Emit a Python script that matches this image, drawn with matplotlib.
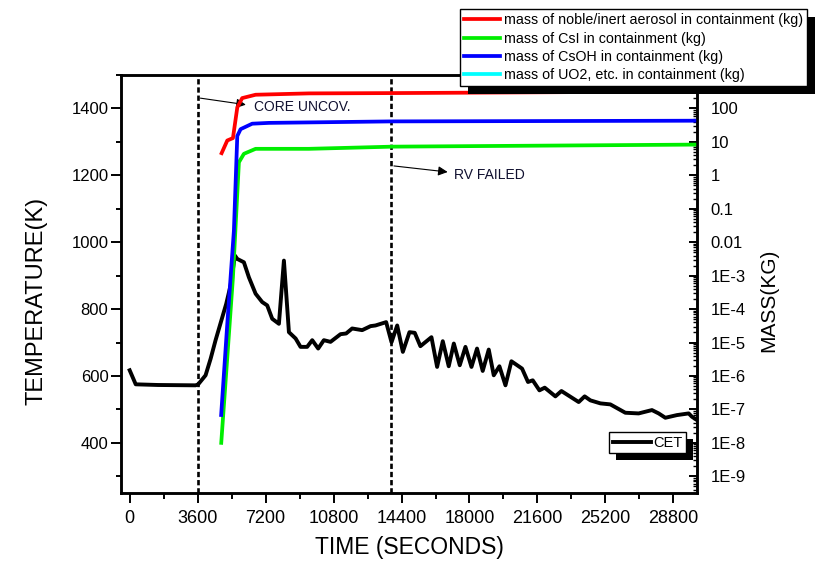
import matplotlib
matplotlib.use("Agg")
import matplotlib.pyplot as plt
from matplotlib.patches import Rectangle
from matplotlib.transforms import IdentityTransform
from matplotlib.ticker import FixedLocator, LogLocator, NullFormatter

plt.rcParams['font.family'] = ['Liberation Sans', 'DejaVu Sans']

# CET temperature (K) vs time (s)
cet_time = [0, 320, 1500, 3490, 3630, 4020, 4290, 4550, 5115, 5345, 5575, 5700,
            6050, 6315, 6670, 7020, 7285, 7550, 7905, 8170, 8435, 8790, 9050, 9400,
            9670, 9985, 10285, 10640, 11170, 11465, 11785, 12315, 12760, 13020,
            13585, 13870, 14170, 14470, 14820, 15100, 15400, 15985, 16285, 16585,
            16900, 17170, 17485, 17785, 18105, 18400, 18700, 19020, 19285, 19585,
            19905, 20220, 20785, 21100, 21350, 21705, 21985, 22550, 22870, 23785,
            24100, 24405, 24935, 25460, 26255, 26960, 27665, 28020, 28375, 28990,
            29610, 29785, 30000]
cet_temp = [617, 575, 573, 572, 575, 602, 652, 707, 816, 871, 960, 950,
            940, 895, 846, 821, 811, 771, 756, 945, 731, 712, 687, 687,
            707, 682, 707, 702, 725, 727, 742, 737, 749, 751,
            761, 701, 751, 672, 731, 729, 689, 716, 627, 704,
            629, 697, 632, 687, 627, 682, 615, 679, 602, 629,
            572, 644, 622, 582, 587, 557, 565, 539, 555, 522,
            539, 527, 518, 515, 490, 488, 498, 488, 475, 483,
            488, 478, 470]

# aerosol masses in containment (kg)
noble_time = [4870, 5170, 5470, 5700, 5960, 6670, 9490, 13890, 20000, 30000]
noble_mass = [4.6, 11, 13, 107, 204, 257, 282, 288, 300, 324]

csi_time = [4850, 5470, 5785, 6050, 6670, 9490, 13900, 30000]
csi_mass = [1e-8, 8.9e-4, 2.45, 4.4, 6.2, 6.2, 7.2, 8.3]

csoh_time = [4845, 5170, 5520, 5700, 5875, 6490, 7375, 13900, 30000]
csoh_mass = [6.8e-8, 3.6e-5, 0.022, 15, 24, 35, 37, 41, 43]

uo2_time = []
uo2_mass = []

events = [3600, 13850]
x_ticks = [0, 3600, 7200, 10800, 14400, 18000, 21600, 25200, 28800]
mass_ticks = [1e-9, 1e-8, 1e-7, 1e-6, 1e-5, 1e-4, 1e-3, 0.01, 0.1, 1, 10, 100]
mass_labels = ["1E-9", "1E-8", "1E-7", "1E-6", "1E-5", "1E-4", "1E-3",
               "0.01", "0.1", "1", "10", "100"]

fig = plt.figure(figsize=(8.22, 5.86), dpi=100)
ax = fig.add_axes([0.1472, 0.1587, 0.7007, 0.7133])
ax2 = ax.twinx()

# temperature side
cet_line, = ax.plot(cet_time, cet_temp, color="black", lw=2.8, label="CET")
for t in events:
    ax.axvline(t, color="black", lw=1.9, linestyle=(0, (2.0, 1.1)))

ax.set_xlim(-460, 30050)
ax.set_ylim(250, 1500)
ax.set_xticks(x_ticks)
ax.xaxis.set_minor_locator(FixedLocator([t + 1800 for t in range(-3600, 30000, 3600)]))
ax.set_yticks([400, 600, 800, 1000, 1200, 1400])
ax.yaxis.set_minor_locator(FixedLocator([300, 500, 700, 900, 1100, 1300, 1500]))
ax.tick_params(axis="x", which="major", direction="out", length=7, width=1.4,
               labelsize=13, pad=5)
ax.tick_params(axis="x", which="minor", direction="out", length=4, width=1.4)
ax.tick_params(axis="y", which="major", direction="out", length=7, width=1.4,
               labelsize=12, pad=2)
ax.tick_params(axis="y", which="minor", direction="out", length=3.5, width=1.4)
for s in ax.spines.values():
    s.set_linewidth(1.8)

ax.set_xlabel("TIME (SECONDS)", fontsize=16.5)
ax.xaxis.set_label_coords(0.5, -0.103)
ax.set_ylabel("TEMPERATURE(K)", fontsize=17)
ax.yaxis.set_label_coords(-0.128, 0.46)

# annotations
ax.annotate("", xy=(6300, 1410), xytext=(3600, 1432),
            arrowprops=dict(arrowstyle="-|>", color="black", lw=0.8, mutation_scale=14))
ax.text(6580, 1403, "CORE UNCOV.", fontsize=10, va="center", ha="left", color="#101030")
ax.annotate("", xy=(16990, 1209), xytext=(13850, 1229),
            arrowprops=dict(arrowstyle="-|>", color="black", lw=0.8, mutation_scale=14))
ax.text(17165, 1201, "RV FAILED", fontsize=10, va="center", ha="left", color="#101030")

# mass side
l1, = ax2.plot(noble_time, noble_mass, color="#ff0000", lw=2.7,
               label="mass of noble/inert aerosol in containment (kg)")
l2, = ax2.plot(csi_time, csi_mass, color="#00ee00", lw=2.7,
               label="mass of CsI in containment (kg)")
l3, = ax2.plot(csoh_time, csoh_mass, color="#0000ff", lw=2.7,
               label="mass of CsOH in containment (kg)")
l4, = ax2.plot(uo2_time, uo2_mass, color="#00ffff", lw=2.7,
               label="mass of UO2, etc. in containment (kg)")
ax2.set_yscale("log")
ax2.set_ylim(10 ** -9.5, 1e3)
ax2.set_yticks(mass_ticks)
ax2.set_yticklabels(mass_labels)
ax2.yaxis.set_minor_locator(LogLocator(base=10, subs=range(2, 10), numticks=30))
ax2.yaxis.set_minor_formatter(NullFormatter())
ax2.tick_params(axis="y", which="major", direction="in", length=6, width=1.4,
                labelsize=12, pad=10)
ax2.tick_params(axis="y", which="minor", direction="in", length=3, width=1.0)
for s in ax2.spines.values():
    s.set_linewidth(1.8)
ax2.set_ylabel("MASS(KG)", fontsize=15)
ax2.yaxis.set_label_coords(1.108, 0.46)

# legends
leg1 = fig.legend(handles=[l1, l2, l3, l4], loc="upper left",
                  bbox_to_anchor=(460 / 822, 1 - 9 / 586), fontsize=10.3,
                  frameon=True, fancybox=False, framealpha=1, edgecolor="black",
                  borderpad=0.3, labelspacing=0.3, handlelength=2.5,
                  handletextpad=0.25, borderaxespad=0)
leg1.get_frame().set_linewidth(1.0)
leg2 = fig.legend(handles=[cet_line], loc="upper left",
                  bbox_to_anchor=(609 / 822, 1 - 432 / 586), fontsize=10.5,
                  frameon=True, fancybox=False, framealpha=1, edgecolor="black",
                  borderpad=0.25, handlelength=2.6, handletextpad=0.2, borderaxespad=0)
leg2.get_frame().set_linewidth(1.0)

# black drop shadows behind the legend boxes
fig.canvas.draw()
for leg, off in [(leg1, 8), (leg2, 7)]:
    bb = leg.get_window_extent()
    fig.add_artist(Rectangle((bb.x0 + off, bb.y0 - off), bb.width, bb.height,
                             transform=IdentityTransform(), facecolor="black",
                             edgecolor="none", zorder=4))

fig.savefig("out.png", dpi=100)
